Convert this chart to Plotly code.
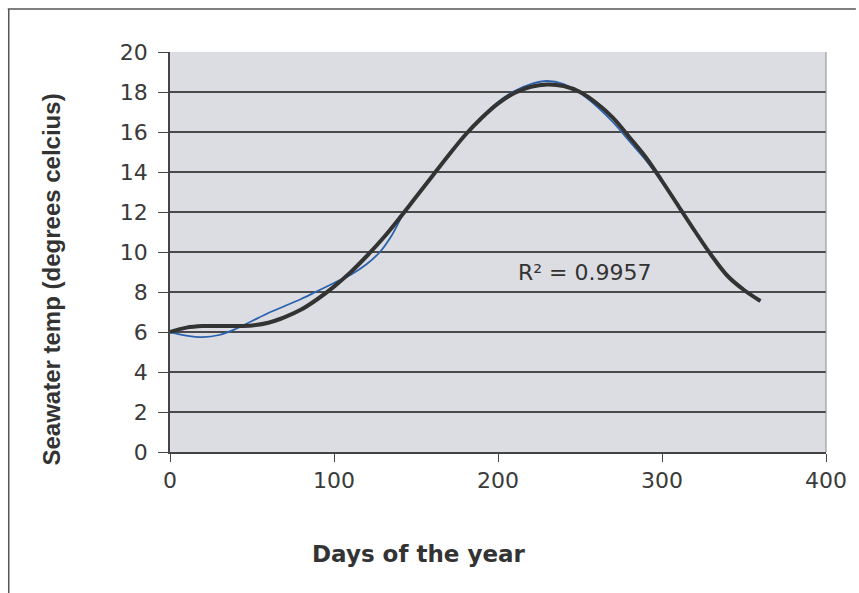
import plotly.graph_objects as go

# Measured data (blue, smoothed line)
data_days = [0, 10, 20, 30, 40, 50, 60, 70, 80, 90, 100, 110, 120, 128, 135, 143, 150, 160, 170, 180,
             190, 200, 210, 220, 230, 240, 250, 260, 270, 280, 290, 300, 310, 320, 330, 340, 350, 360]
data_temp = [6.0, 5.82, 5.74, 5.85, 6.15, 6.55, 6.95, 7.3, 7.65, 8.05, 8.45, 8.85, 9.4, 10.0, 10.8, 12.0, 12.75, 13.8, 14.85, 15.85,
             16.75, 17.5, 18.05, 18.4, 18.55, 18.4, 17.95, 17.3, 16.5, 15.55, 14.6, 13.5, 12.3, 11.05, 9.85, 8.85, 8.1, 7.55]

# Polynomial trendline (thick dark line)
trend_days = [0, 10, 20, 30, 40, 50, 60, 70, 80, 90, 100, 110, 120, 130, 140, 150, 160, 170, 180,
              190, 200, 210, 220, 230, 240, 250, 260, 270, 280, 290, 300, 310, 320, 330, 340, 350, 360]
trend_temp = [6.0, 6.22, 6.3, 6.3, 6.3, 6.33, 6.46, 6.74, 7.12, 7.65, 8.27, 8.98, 9.8, 10.7, 11.7, 12.75, 13.8, 14.85, 15.85,
              16.7, 17.42, 17.95, 18.26, 18.38, 18.3, 18.0, 17.45, 16.72, 15.75, 14.75, 13.55, 12.3, 11.05, 9.85, 8.8, 8.1, 7.55]

x_ticks = [0, 100, 200, 300, 400]
y_ticks = [0, 2, 4, 6, 8, 10, 12, 14, 16, 18, 20]
r2_label = "R² = 0.9957"

fig = go.Figure()
fig.add_trace(go.Scatter(x=data_days, y=data_temp, mode="lines",
                         line=dict(color="#2a62ad", width=1.8, shape="spline"),
                         showlegend=False, hoverinfo="skip"))
fig.add_trace(go.Scatter(x=trend_days, y=trend_temp, mode="lines",
                         line=dict(color="#333333", width=4, shape="spline"),
                         showlegend=False, hoverinfo="skip"))

W, H = 859, 593
L, R, T, B = 170, 30, 52, 141
PW, PH = W - L - R, H - T - B

def px(x):
    return (x - L) / PW

def py(y):
    return (H - B - y) / PH

tick_font = dict(family="DejaVu Sans, sans-serif", size=22, color="#3a3a3a")

fig.update_layout(
    width=W, height=H,
    margin=dict(l=L, r=R, t=T, b=B),
    paper_bgcolor="white",
    plot_bgcolor="#dcdde2",
    font=dict(family="DejaVu Sans, sans-serif", color="#333333", size=22),
    xaxis=dict(range=[0, 400], tickvals=x_ticks, showgrid=False, zeroline=False,
               showline=True, linecolor="#444444", linewidth=1.5,
               ticks="outside", ticklen=8, tickcolor="#444444",
               tickfont=tick_font),
    yaxis=dict(range=[0, 20], tickvals=y_ticks, showgrid=True, gridcolor="#4a4a4a", gridwidth=1.5,
               zeroline=False, showline=True, linecolor="#444444", linewidth=1.5,
               ticks="outside", ticklen=10, tickcolor="#444444",
               ticklabelstandoff=6, tickfont=tick_font),
    shapes=[
        dict(type="line", xref="paper", yref="paper", x0=1, x1=1, y0=0, y1=1,
             line=dict(color="#8a8a8a", width=1)),
        dict(type="line", xref="paper", yref="paper",
             x0=px(7), x1=px(W), y0=py(9), y1=py(9),
             line=dict(color="#555555", width=1.5)),
        dict(type="line", xref="paper", yref="paper",
             x0=px(8), x1=px(8), y0=py(9), y1=py(H),
             line=dict(color="#555555", width=1.5)),
    ],
    annotations=[
        dict(text=r2_label, x=253, y=9.0, xref="x", yref="y", showarrow=False,
             xanchor="center", yanchor="middle",
             font=dict(family="DejaVu Sans, sans-serif", size=22, color="#333333")),
        dict(text="<b>Days of the year</b>", xref="paper", yref="paper",
             x=px(420), y=py(554), xanchor="center", yanchor="middle", showarrow=False,
             font=dict(family="DejaVu Sans, sans-serif", size=23, color="#333333")),
        dict(text="<b>Seawater temp (degrees celcius)</b>", xref="paper", yref="paper",
             x=px(50), y=py(280), xanchor="center", yanchor="middle", textangle=-90, showarrow=False,
             font=dict(family="Liberation Sans, Arial, sans-serif", size=24, color="#333333")),
    ],
)

fig.write_html("out.html", config={"displayModeBar": False},
               post_script="document.body.style.margin='0';document.body.style.overflow='hidden';")
